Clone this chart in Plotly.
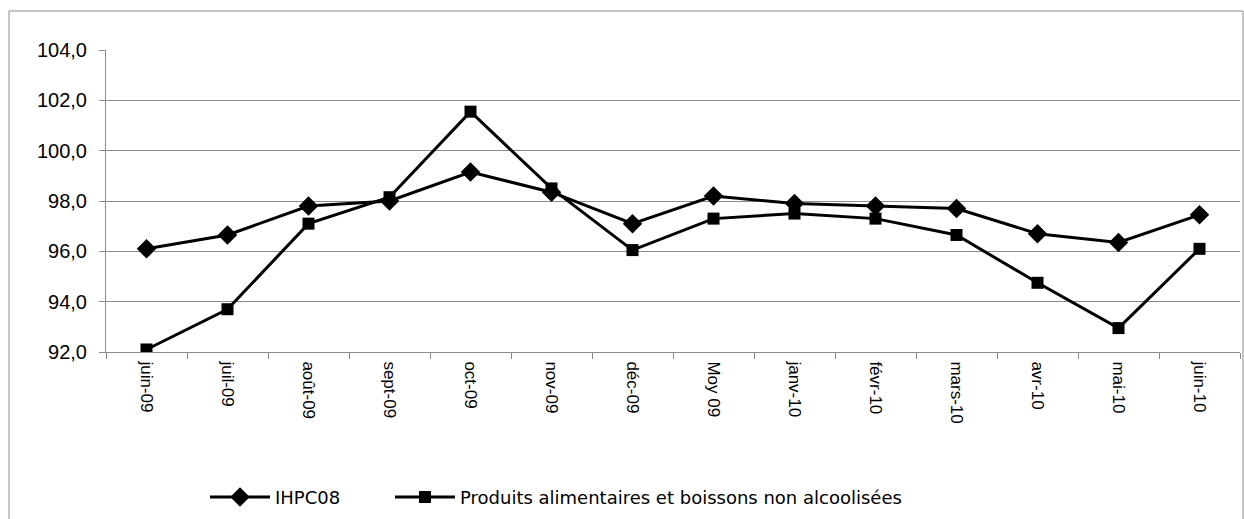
import plotly.graph_objects as go

categories = ["juin-09", "juil-09", "août-09", "sept-09", "oct-09", "nov-09", "déc-09",
              "Moy 09", "janv-10", "févr-10", "mars-10", "avr-10", "mai-10", "juin-10"]
ihpc08 = [96.1, 96.65, 97.8, 98.0, 99.15, 98.35, 97.1, 98.2, 97.9, 97.8, 97.7, 96.7, 96.35, 97.45]
produits = [92.1, 93.7, 97.1, 98.15, 101.55, 98.5, 96.05, 97.3, 97.5, 97.3, 96.65, 94.75, 92.95, 96.1]

fig = go.Figure()
fig.add_trace(go.Scatter(
    x=categories, y=ihpc08, name="IHPC08", mode="lines+markers",
    line=dict(color="black", width=3),
    marker=dict(symbol="diamond", size=15, color="black"),
    legend="legend",
))
fig.add_trace(go.Scatter(
    x=categories, y=produits, name="Produits alimentaires et boissons non alcoolisées",
    mode="lines+markers",
    line=dict(color="black", width=3),
    marker=dict(symbol="square", size=12, color="black"),
    legend="legend2",
))

legend_common = dict(orientation="h", xanchor="left", y=-0.42, yanchor="top",
                     font=dict(size=18, family="DejaVu Sans"), itemwidth=60,
                     bgcolor="rgba(0,0,0,0)")

fig.update_layout(
    template="none",
    width=1244, height=519, autosize=False,
    margin=dict(l=106, r=4, t=50, b=167, autoexpand=False),
    paper_bgcolor="white", plot_bgcolor="white",
    separators=", ",
    font=dict(family="Liberation Sans, Arial, sans-serif", size=15, color="black"),
    showlegend=True,
    legend=dict(x=(205 - 106) / 1134, **legend_common),
    legend2=dict(x=(390 - 106) / 1134, **legend_common),
    shapes=[dict(type="rect", xref="paper", yref="paper",
                 x0=-97/1134, x1=1.0 + 3/1134, y0=-1.0, y1=1 + 39/302,
                 line=dict(color="#8c8c8c", width=1), layer="below")],
)
fig.update_xaxes(
    type="category", range=[-0.5, len(categories) - 0.5],
    tickangle=90, tickson="boundaries", automargin=False,
    ticks="outside", ticklen=6, tickcolor="#8c8c8c", ticklabelstandoff=5,
    showline=True, linecolor="#8c8c8c", linewidth=1,
    showgrid=False, tickfont=dict(size=17),
)
fig.update_yaxes(
    range=[92, 104], dtick=2, tickformat=".1f", automargin=False,
    ticks="outside", ticklen=6, tickcolor="#8c8c8c", ticklabelstandoff=8,
    showline=True, linecolor="#8c8c8c", linewidth=1,
    showgrid=True, gridcolor="#8c8c8c", gridwidth=1,
    tickfont=dict(size=20), zeroline=False,
)

fig.write_html(
    "out.html",
    config={"responsive": False, "displayModeBar": False},
    post_script="document.body.style.margin='0';document.documentElement.style.overflow='hidden';",
)
